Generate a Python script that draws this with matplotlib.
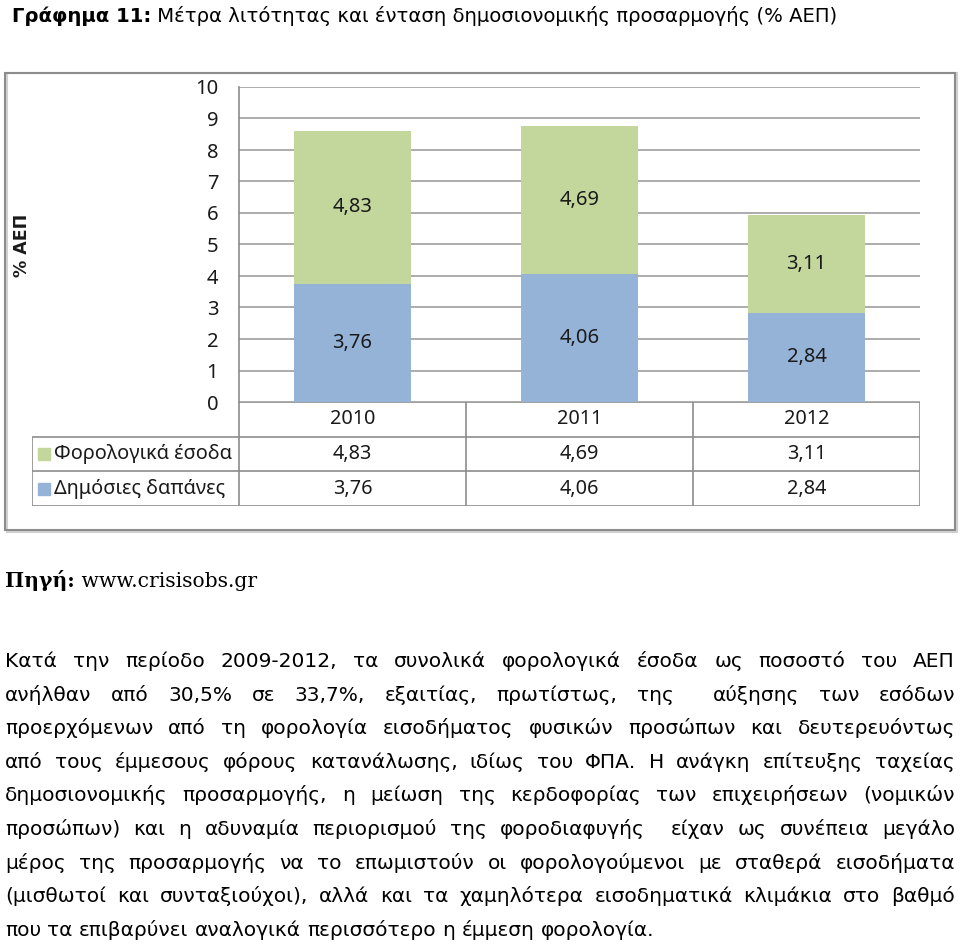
import matplotlib
matplotlib.use("Agg")
import matplotlib.pyplot as plt
from matplotlib.patches import Rectangle

# data
years = ["2010", "2011", "2012"]
spending = [3.76, 4.06, 2.84]     # Δημόσιες δαπάνες
taxes = [4.83, 4.69, 3.11]        # Φορολογικά έσοδα
series_names = ["Φορολογικά έσοδα", "Δημόσιες δαπάνες"]
yticks = list(range(0, 11))

title_bold = "Γράφημα 11:"
title_rest = " Μέτρα λιτότητας και ένταση δημοσιονομικής προσαρμογής (% ΑΕΠ)"
source_bold = "Πηγή:"
source_rest = " www.crisisobs.gr"
paragraph = [
    "Κατά την περίοδο 2009-2012, τα συνολικά φορολογικά έσοδα ως ποσοστό του ΑΕΠ",
    "ανήλθαν από 30,5% σε 33,7%, εξαιτίας, πρωτίστως, της  αύξησης των εσόδων",
    "προερχόμενων από τη φορολογία εισοδήματος φυσικών προσώπων και δευτερευόντως",
    "από τους έμμεσους φόρους κατανάλωσης, ιδίως του ΦΠΑ. Η ανάγκη επίτευξης ταχείας",
    "δημοσιονομικής προσαρμογής, η μείωση της κερδοφορίας των επιχειρήσεων (νομικών",
    "προσώπων) και η αδυναμία περιορισμού της φοροδιαφυγής  είχαν ως συνέπεια μεγάλο",
    "μέρος της προσαρμογής να το επωμιστούν οι φορολογούμενοι με σταθερά εισοδήματα",
    "(μισθωτοί και συνταξιούχοι), αλλά και τα χαμηλότερα εισοδηματικά κλιμάκια στο βαθμό",
    "που τα επιβαρύνει αναλογικά περισσότερο η έμμεση φορολογία.",
]

GREEN = "#C3D69B"
BLUE = "#95B3D7"
GRID = "#A6A6A6"
LINE = "#8C8C8C"
TXT = "#1A1A1A"

plt.rcParams["font.family"] = ["Noto Sans", "DejaVu Sans"]
DOC = "DejaVu Sans"

W, H = 960, 947
fig = plt.figure(figsize=(W / 100, H / 100), dpi=100)
r = fig.canvas.get_renderer()


def fx(px):
    return px / W


def fy(py):
    return 1 - py / H


def text_width(t):
    return t.get_window_extent(renderer=r).width


# title: bold part followed by normal part
t1 = fig.text(fx(12), fy(22), title_bold, fontsize=14.1, fontweight="bold",
              family=DOC, va="baseline")
fig.text(fx(12 + text_width(t1)), fy(22), title_rest, fontsize=14.1, family=DOC,
         va="baseline")

# chart frame
fig.patches.append(Rectangle((fx(7), fy(532)), fx(950), 459 / H, transform=fig.transFigure,
                             fill=False, edgecolor="#D0D0D0", lw=1.5))
fig.patches.append(Rectangle((fx(5), fy(530)), fx(950), 457 / H, transform=fig.transFigure,
                             fill=False, edgecolor=LINE, lw=1.5))

# plot area
left, right, top, bottom = 239, 920, 87, 402
ax = fig.add_axes([fx(left), fy(bottom), fx(right - left), (bottom - top) / H])
x = list(range(len(years)))
ax.bar(x, spending, width=0.515, color=BLUE, zorder=2)
ax.bar(x, taxes, width=0.515, bottom=spending, color=GREEN, zorder=2)
for i in x:
    ax.text(i, spending[i] / 2, f"{spending[i]:.2f}".replace(".", ","), ha="center",
            va="center", fontsize=14.5, color=TXT, zorder=3)
    ax.text(i, spending[i] + taxes[i] / 2, f"{taxes[i]:.2f}".replace(".", ","), ha="center",
            va="center", fontsize=14.5, color=TXT, zorder=3)
ax.set_xlim(-0.5, len(years) - 0.5)
ax.set_ylim(0, 10)
ax.set_yticks(yticks)
ax.set_yticklabels([str(v) for v in yticks], fontsize=14.5, color=TXT)
ax.set_xticks([])
ax.tick_params(axis="y", length=0, pad=15)
ax.yaxis.grid(True, color=GRID, lw=1.3, zorder=0)
ax.set_axisbelow(True)
for s in ["top", "right", "bottom"]:
    ax.spines[s].set_visible(False)
ax.spines["left"].set_color(LINE)
ax.spines["left"].set_linewidth(1.2)

fig.text(fx(22), fy(245), "% ΑΕΠ", rotation=90, fontsize=12.5, fontweight="bold",
         family=DOC, ha="center", va="center", color=TXT)

# data table below the chart
unit = (right - left) / len(years)
tleft = 32
tax = fig.add_axes([fx(tleft), fy(506), fx(right - tleft), (506 - bottom) / H])
x0 = -0.5 - (left - tleft) / unit
tax.set_xlim(x0, len(years) - 0.5)
tax.set_ylim(3, 0)
tax.axis("off")
tax.hlines(0, -0.5, len(years) - 0.5, color=LINE, lw=1.2)
tax.hlines([1, 2, 3], x0, len(years) - 0.5, color=LINE, lw=1.2)
tax.vlines([b - 0.5 for b in range(len(years) + 1)], 0, 3, color=LINE, lw=1.2)
tax.vlines(x0, 1, 3, color=LINE, lw=1.2)
for i, yr in enumerate(years):
    tax.text(i, 0.5, yr, ha="center", va="center", fontsize=14.3, color=TXT)
    tax.text(i, 1.5, f"{taxes[i]:.2f}".replace(".", ","), ha="center", va="center",
             fontsize=14.3, color=TXT)
    tax.text(i, 2.5, f"{spending[i]:.2f}".replace(".", ","), ha="center", va="center",
             fontsize=14.3, color=TXT)
for row, (name, col) in enumerate(zip(series_names, [GREEN, BLUE])):
    tax.plot(x0 + 12 / unit, row + 1.5, marker="s", ms=9, color=col, clip_on=False)
    tax.text(x0 + 22 / unit, row + 1.5, name, ha="left", va="center", fontsize=14.3,
             color=TXT)

# source line
s1 = fig.text(fx(5), fy(587), source_bold, fontsize=14.6, fontweight="bold",
              family="DejaVu Serif", va="baseline")
fig.text(fx(5 + text_width(s1)), fy(587), source_rest, fontsize=14.6,
         family="DejaVu Serif", va="baseline")

# justified paragraph
px0, px1 = 5, 955
base = 667
step = 33.6
PS = 14.5
for k, line in enumerate(paragraph):
    words = line.split(" ")
    yb = fy(base + k * step)
    ts = [fig.text(0, yb, w, fontsize=PS, family=DOC, va="baseline") for w in words]
    widths = [text_width(t) for t in ts]
    if k == len(paragraph) - 1:
        gap = text_width(fig.text(0, 0, "a a", fontsize=PS, family=DOC, alpha=0)) - \
              text_width(fig.text(0, 0, "aa", fontsize=PS, family=DOC, alpha=0))
    else:
        gap = (px1 - px0 - sum(widths)) / (len(words) - 1)
    xp = px0
    for t, w in zip(ts, widths):
        t.set_x(fx(xp))
        xp += w + gap

fig.savefig("out.png", dpi=100)
